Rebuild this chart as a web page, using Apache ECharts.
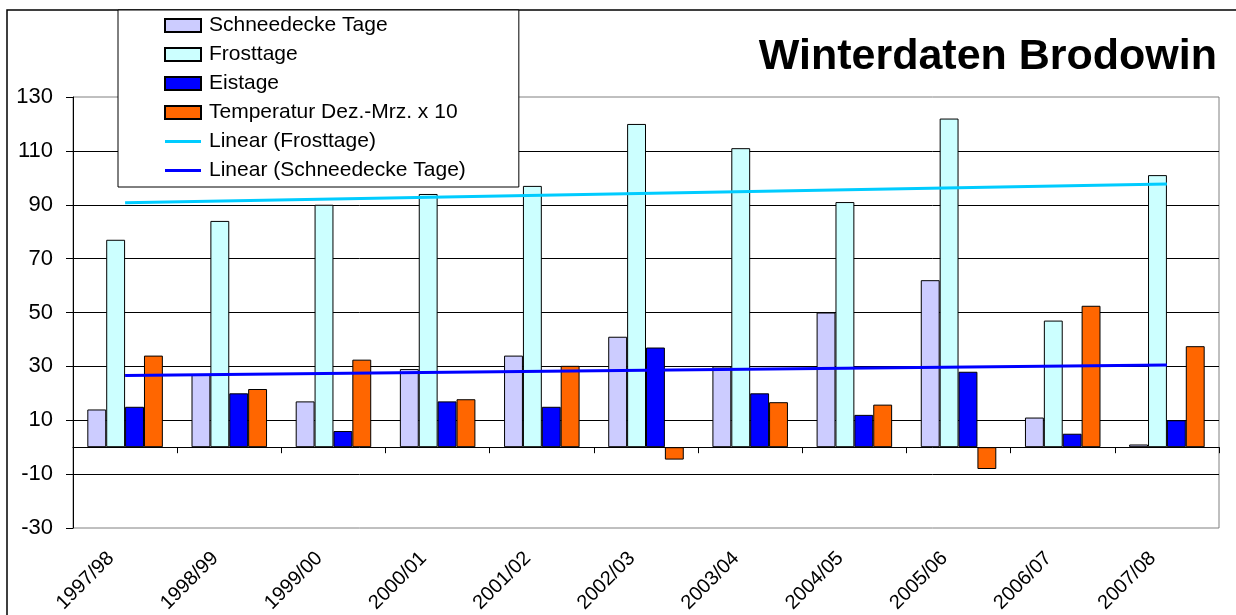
<!DOCTYPE html>
<html>
<head>
<meta charset="utf-8">
<script src="https://cdn.jsdelivr.net/npm/echarts@6/dist/echarts.min.js"></script>
<style>
html,body{margin:0;padding:0;background:#fff;}
#chart{width:1236px;height:615px;}
</style>
</head>
<body>
<div id="chart"></div>
<script>
// ---- data ----
const categories = ['1997/98','1998/99','1999/00','2000/01','2001/02','2002/03','2003/04','2004/05','2005/06','2006/07','2007/08'];
const schneedecke = [14, 27, 17, 29, 34, 41, 30, 50, 62, 11, 1];
const frosttage   = [77, 84, 90, 94, 97, 120, 111, 91, 122, 47, 101];
const eistage     = [15, 20, 6, 17, 15, 37, 20, 12, 28, 5, 10];
const temperatur  = [34, 21.6, 32.5, 17.8, 30.2, -4.6, 16.7, 15.8, -8.1, 52.5, 37.5];
// trend line end points (first and last category)
const trendFrost   = [90.7, 97.7];
const trendSchnee  = [26.6, 30.5];
const yTicks = {min: -30, max: 130, interval: 20};

const FONT = "'Liberation Sans', Arial, sans-serif";
const LINE_ICON = 'path://M0,0L36,0L36,3L0,3Z';
const chart = echarts.init(document.getElementById('chart'), null, {renderer: 'canvas'});

function barSeries(name, data, color) {
  return {
    name: name, type: 'bar', data: data,
    xAxisIndex: 0, yAxisIndex: 0,
    barGap: '0%', barCategoryGap: '27.5%',
    itemStyle: {color: color, borderColor: '#000', borderWidth: 1},
    emphasis: {disabled: true}
  };
}
function trendSeries(name, ends, color) {
  return {
    name: name, type: 'line',
    data: [[categories[0], ends[0]], [categories[categories.length - 1], ends[1]]],
    xAxisIndex: 0, yAxisIndex: 0,
    symbol: 'none', showSymbol: false,
    lineStyle: {color: color, width: 3},
    itemStyle: {color: color},
    z: 5, emphasis: {disabled: true}
  };
}

chart.setOption({
  animation: false,
  backgroundColor: '#fff',
  textStyle: {fontFamily: FONT},
  title: {
    text: 'Winterdaten Brodowin',
    right: 14, top: 31,
    textStyle: {fontFamily: FONT, fontSize: 43, fontWeight: 'bold', color: '#000'}
  },
  graphic: [{
    type: 'rect', silent: true, z: -10,
    shape: {x: 7, y: 10, width: 1260, height: 700},
    style: {fill: null, stroke: '#000', lineWidth: 1.5}
  }],
  legend: {
    orient: 'vertical',
    left: 118, top: 10,
    padding: [5, 53, 6, 46],
    itemWidth: 36, itemHeight: 13, itemGap: 8,
    symbolKeepAspect: true,
    backgroundColor: '#fff',
    borderColor: '#000', borderWidth: 1,
    selectedMode: false,
    textStyle: {fontFamily: FONT, fontSize: 21, lineHeight: 21, color: '#000', padding: [0, 0, 0, 3]},
    data: [
      {name: 'Schneedecke Tage', icon: 'rect'},
      {name: 'Frosttage', icon: 'rect'},
      {name: 'Eistage', icon: 'rect'},
      {name: 'Temperatur Dez.-Mrz. x 10', icon: 'rect'},
      {name: 'Linear (Frosttage)', icon: LINE_ICON, itemStyle: {color: '#00CCFF', borderWidth: 0}},
      {name: 'Linear (Schneedecke Tage)', icon: LINE_ICON, itemStyle: {color: '#0000FF', borderWidth: 0}}
    ]
  },
  grid: {
    left: 73, right: 17, top: 97, bottom: 87,
    outerBoundsMode: 'none', containLabel: false,
    show: true, borderColor: '#808080', borderWidth: 1, backgroundColor: 'transparent'
  },
  xAxis: [{
    type: 'category', data: categories, position: 'bottom',
    axisLine: {show: false, onZero: false},
    axisTick: {show: false},
    splitLine: {show: false},
    axisLabel: {
      rotate: 45, interval: 0, margin: 13,
      padding: [0, 20, 0, 0],
      fontFamily: FONT, fontSize: 20, color: '#000'
    }
  }, {
    type: 'category', data: categories, position: 'top',
    axisLine: {show: true, onZero: true, onZeroAxisIndex: 0, lineStyle: {color: '#000', width: 1}},
    axisTick: {show: true, inside: true, length: 6, interval: 0, lineStyle: {color: '#000'}},
    axisLabel: {show: false},
    splitLine: {show: false}
  }],
  yAxis: {
    type: 'value', min: yTicks.min, max: yTicks.max, interval: yTicks.interval,
    axisLine: {show: true, onZero: false, lineStyle: {color: '#000', width: 1}},
    axisTick: {show: true, length: 7, lineStyle: {color: '#000'}},
    axisLabel: {margin: 20, fontFamily: FONT, fontSize: 22, color: '#000'},
    splitLine: {show: true, showMinLine: false, showMaxLine: false, lineStyle: {color: '#000', width: 1}}
  },
  series: [
    barSeries('Schneedecke Tage', schneedecke, '#CCCCFF'),
    barSeries('Frosttage', frosttage, '#CCFFFF'),
    barSeries('Eistage', eistage, '#0000FF'),
    barSeries('Temperatur Dez.-Mrz. x 10', temperatur, '#FF6600'),
    trendSeries('Linear (Frosttage)', trendFrost, '#00CCFF'),
    trendSeries('Linear (Schneedecke Tage)', trendSchnee, '#0000FF')
  ]
});
</script>
</body>
</html>
